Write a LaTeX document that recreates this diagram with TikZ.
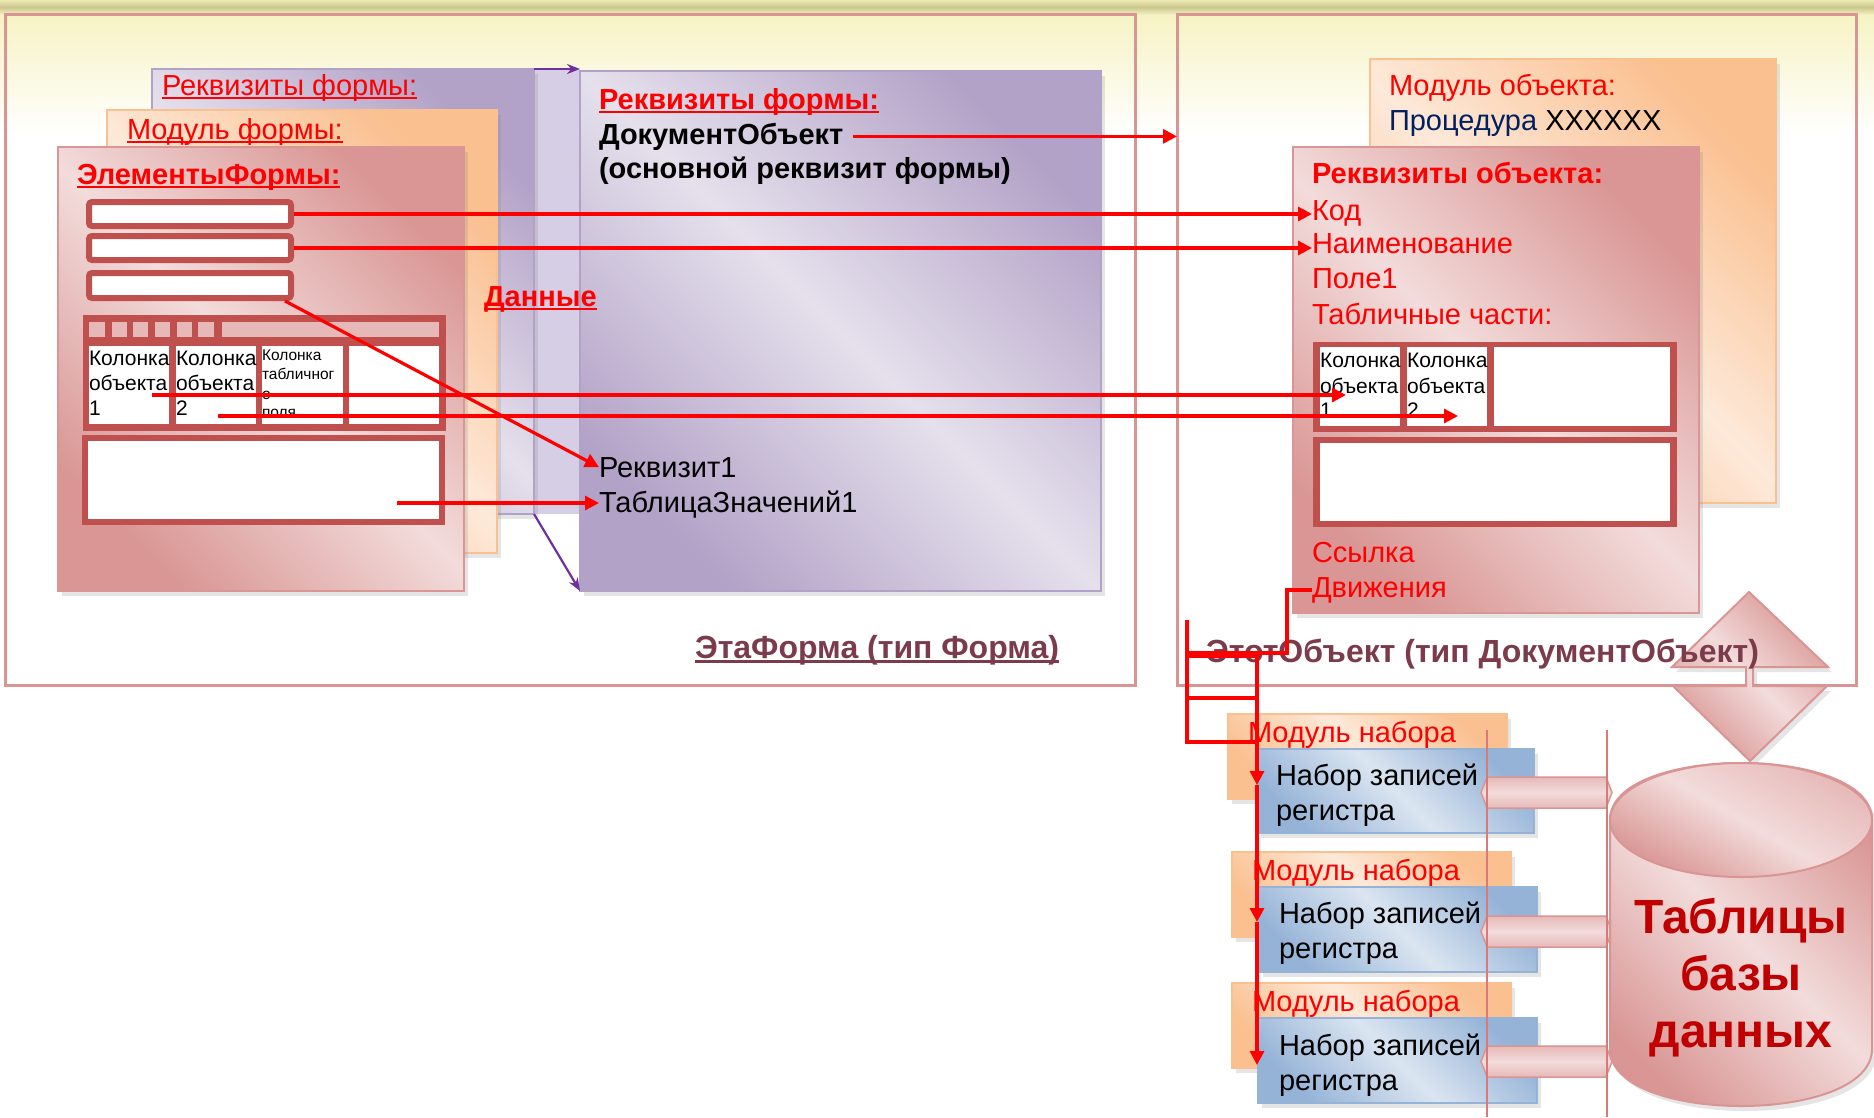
\documentclass[tikz,border=0pt]{standalone}
\usepackage{fontspec}
\setmainfont{Liberation Sans}
\usetikzlibrary{arrows.meta,shadows,fit}
\definecolor{frm}{HTML}{D99594}
\definecolor{dkred}{HTML}{C0504D}
\definecolor{pkL}{HTML}{F2DCDB}
\definecolor{pkM}{HTML}{E6B9B8}
\definecolor{pkD}{HTML}{D99694}
\definecolor{puL}{HTML}{E5E0EC}
\definecolor{puD}{HTML}{B3A2C7}
\definecolor{orL}{HTML}{FDE9D9}
\definecolor{orD}{HTML}{FAC090}
\definecolor{blL}{HTML}{DBE5F1}
\definecolor{blD}{HTML}{95B3D7}
\definecolor{mrn}{HTML}{7B3B4B}
\definecolor{nvy}{HTML}{002060}
\definecolor{dbred}{HTML}{C00000}
\definecolor{purp}{HTML}{7030A0}
\definecolor{stripc}{HTML}{D6CEE4}
\definecolor{yelT}{HTML}{EEEBB2}
\definecolor{khk}{HTML}{CBC78E}
\definecolor{yelB}{HTML}{F6F3C4}
\definecolor{thinl}{HTML}{D87A7A}
\newsavebox\ulbox
\newcommand\ulx[1]{\sbox\ulbox{#1}\rlap{\rule[-0.15em]{\wd\ulbox}{0.075em}}\usebox\ulbox}
\newcommand\fsMain{\fontsize{29}{35}\selectfont}
\newcommand\fsCell{\fontsize{21}{25}\selectfont}
\newcommand\fsSmall{\fontsize{15.5}{19}\selectfont}
\newcommand\fsTitle{\fontsize{32}{38}\selectfont}
\newcommand\fsBig{\fontsize{48}{57}\selectfont}
\tikzset{
 shd/.style={drop shadow={opacity=0.2,shadow xshift=4pt,shadow yshift=-5pt}},
 pinkbox/.style={draw=pkD,line width=1.5pt,left color=pkD,right color=pkD,middle color=pkL,shading angle=-45,shd},
 purbox/.style={draw=puD,line width=1.5pt,left color=puD,right color=puD,middle color=puL,shading angle=-45,shd},
 orbox/.style={draw=orD,line width=1.5pt,left color=orD,right color=orD,middle color=orL,shading angle=-45,shd},
 blbox/.style={draw=blD,line width=1.5pt,left color=blD,right color=blD,middle color=blL,shading angle=-45,shd},
 frame/.style={draw=frm,line width=3pt},
 fieldbox/.style={draw=dkred,line width=6pt,fill=white,rounded corners=3pt,outer sep=3pt},
 dk/.style={fill=dkred},
 wc/.style={fill=white},
 txt/.style={anchor=base west,font=\fsMain,text=red},
 blk/.style={txt,text=black},
 celltx/.style={anchor=base west,font=\fsCell,text=black},
 smalltx/.style={anchor=base west,font=\fsSmall,text=black},
 rarr/.style={draw=red,line width=3.2pt,-{Triangle[length=14pt,width=14pt]}},
 rline/.style={draw=red,line width=3.2pt},
 parr/.style={draw=purp,line width=2.2pt,-{Stealth[length=13pt,width=10pt]}},
 barsh/.style={draw=frm,line width=1.5pt,top color=pkM,bottom color=pkM,middle color=pkL},
}
\begin{document}
\begin{tikzpicture}[x=1pt,y=-1pt,every node/.style={inner sep=0pt,outer sep=0pt}]
\useasboundingbox (0,0) rectangle (1874,1117);
% background
\fill[white] (0,0) rectangle (1874,1117);
\shade[top color=yelT,bottom color=khk] (0,0) rectangle (1874,7);
\shade[top color=khk,bottom color=yelB] (0,7) rectangle (1874,15);
\shade[top color=yelB,bottom color=white] (0,15) rectangle (1874,135);
% frames
\node[frame,fit={(5,14) (1135,685)}] (lframe) {};
\node[frame,fit={(1177,14) (1856,685)}] (rframe) {};
% left stack
\node[fill=stripc,fit={(534,70) (580,514)}] (S) {};
\node[purbox,fit={(152,69) (534,514)}] (A) {};
\node[orbox,fit={(107,110) (497,553)}] (B) {};
\node[pinkbox,fit={(58,147) (464,591)}] (C) {};
\node[purbox,fit={(580,71) (1101,591)}] (D) {};
\node[txt] (tA) at (162,95) {\ulx{Реквизиты формы:}};
\node[txt] (tB) at (127,139) {\ulx{Модуль формы:}};
\node[txt,font=\fsMain\bfseries] (tC) at (77,184) {\ulx{ЭлементыФормы:}};
% fields
\node[fieldbox,fit={(89,202) (291,226)}] (f1) {};
\node[fieldbox,fit={(89,236) (291,260)}] (f2) {};
\node[fieldbox,fit={(89,273) (291,298)}] (f3) {};
% left table
\node[dk,fit={(83,315) (446,431)}] (tbl) {};
\foreach \a/\b in {89/105,112/127,133/148,155/170,177/192,198/214,222/439}
  \fill[pkM] (\a,322) rectangle (\b,337);
\node[wc,fit={(89,346) (169,424)}] (c1) {};
\node[wc,fit={(176,346) (256,424)}] (c2) {};
\node[wc,fit={(262,346) (343,424)}] (c3) {};
\node[wc,fit={(349,346) (439,424)}] (c4) {};
\node[celltx] (c1a) at (89,365) {Колонка};
\node[celltx] (c1b) at (89,390) {объекта};
\node[celltx] (c1c) at (89,415) {1};
\node[celltx] (c2a) at (176,365) {Колонка};
\node[celltx] (c2b) at (176,390) {объекта};
\node[celltx] (c2c) at (176,415) {2};
\node[smalltx] (c3a) at (262,360) {Колонка};
\node[smalltx] (c3b) at (262,379) {табличног};
\node[smalltx] (c3c) at (262,399) {о};
\node[smalltx] (c3d) at (262,417) {поля};
\node[dk,fit={(82,435) (445,525)}] (bb) {};
\node[wc,fit={(88,441) (439,519)}] (bbin) {};
% big form attributes box texts
\node[txt,font=\fsMain\bfseries] (dan) at (484,306) {\ulx{Данные}};
\node[txt,font=\fsMain\bfseries] (tD) at (599,109) {\ulx{Реквизиты формы:}};
\node[blk,font=\fsMain\bfseries] (docobj) at (599,144) {ДокументОбъект};
\node[blk,font=\fsMain\bfseries] (osn) at (599,178) {(основной реквизит формы)};
\node[blk] (rekv1) at (599,477) {Реквизит1};
\node[blk] (tz1) at (599,512) {ТаблицаЗначений1};
\node[txt,font=\fsTitle\bfseries,text=mrn] (etaf) at (695,658) {\ulx{ЭтаФорма (тип Форма)}};
% right side
\node[orbox,fit={(1370,59) (1776,503)}] (MO) {};
\node[txt] (tMO) at (1389,95) {Модуль объекта:};
\node[txt,text=nvy] (proc) at (1389,130) {Процедура \textcolor{black}{XXXXXX}};
\node[pinkbox,fit={(1293,147) (1699,613)}] (RO) {};
\node[txt,font=\fsMain\bfseries] (tRO) at (1312,183) {Реквизиты объекта:};
\node[txt] (kod) at (1312,220) {Код};
\node[txt] (naim) at (1312,253) {Наименование};
\node[txt] (pole) at (1312,288) {Поле1};
\node[txt] (tch) at (1312,324) {Табличные части:};
\node[dk,fit={(1313,342) (1677,432)}] (rtbl) {};
\node[wc,fit={(1320,347) (1400,426)}] (rc1) {};
\node[wc,fit={(1407,347) (1487,426)}] (rc2) {};
\node[wc,fit={(1494,347) (1670,426)}] (rc3) {};
\node[celltx] (rc1a) at (1320,367) {Колонка};
\node[celltx] (rc1b) at (1320,393) {объекта};
\node[celltx] (rc1c) at (1320,417) {1};
\node[celltx] (rc2a) at (1407,367) {Колонка};
\node[celltx] (rc2b) at (1407,393) {объекта};
\node[celltx] (rc2c) at (1407,417) {2};
\node[dk,fit={(1313,437) (1677,527)}] (rbb) {};
\node[wc,fit={(1320,443) (1670,521)}] (rbbin) {};
\node[txt] (ssyl) at (1312,562) {Ссылка};
\node[txt] (dvizh) at (1312,597) {Движения};
% double arrow
\path[draw=frm,line width=2pt,left color=pkD,right color=pkD,middle color=pkL,shading angle=-45,shd]
 (1749,592) -- (1828,667) -- (1753,667) -- (1753,686) -- (1827,686) -- (1750,761)
 -- (1673,686) -- (1746,686) -- (1746,667) -- (1672,667) -- cycle;
\node[txt,font=\fsTitle\bfseries,text=mrn] (etot) at (1206,662) {ЭтотОбъект (тип ДокументОбъект)};
% register record sets
\node[orbox,fit={(1228,714) (1507,799)}] (o1) {};
\node[blbox,fit={(1257,749) (1534,833)}] (b1) {};
\node[orbox,fit={(1232,852) (1511,937)}] (o2) {};
\node[blbox,fit={(1259,887) (1537,972)}] (b2) {};
\node[orbox,fit={(1232,983) (1511,1068)}] (o3) {};
\node[blbox,fit={(1258,1018) (1537,1103)}] (b3) {};
\node[txt] (mo1) at (1248,742) {Модуль набора};
\node[txt] (mo2) at (1252,880) {Модуль набора};
\node[txt] (mo3) at (1252,1011) {Модуль набора};
\node[blk] (n1a) at (1276,785) {Набор записей};
\node[blk] (n1b) at (1276,820) {регистра};
\node[blk] (n2a) at (1279,923) {Набор записей};
\node[blk] (n2b) at (1279,958) {регистра};
\node[blk] (n3a) at (1279,1055) {Набор записей};
\node[blk] (n3b) at (1279,1090) {регистра};
% bars to the database
\foreach \y in {777,916,1046}
  \path[barsh] (1481,\y+15.5) -- (1487,\y) -- (1606,\y) -- (1612,\y+15.5) -- (1606,\y+31) -- (1487,\y+31) -- cycle;
\draw[thinl,line width=1.5pt] (1487,730) -- (1487,1117);
\draw[thinl,line width=1.5pt] (1607,730) -- (1607,1117);
% cylinder
\path[draw=frm,line width=2pt,left color=pkD,right color=pkD,middle color=pkL,shading angle=-45,shd]
 (1610,820) -- (1610,1049) .. controls (1610,1125) and (1872,1125) .. (1872,1049)
 -- (1872,820) .. controls (1872,744) and (1610,744) .. (1610,820) -- cycle;
\path[draw=frm,line width=2pt,left color=pkM,right color=pkD,middle color=pkL,shading angle=-30]
 (1741,820) ellipse [x radius=131,y radius=57];
\node[anchor=base,font=\fsBig\bfseries,text=dbred] (db1) at (1741,933) {Таблицы};
\node[anchor=base,font=\fsBig\bfseries,text=dbred] (db2) at (1741,990) {базы};
\node[anchor=base,font=\fsBig\bfseries,text=dbred] (db3) at (1741,1047) {данных};
% purple zoom arrows
\draw[parr] (A.north east) -- (A.north east -| D.west);
\draw[parr] (A.south east) -- (D.south west);
% red connectors
\draw[rarr] ([xshift=10pt]docobj.east) -- (docobj.east -| rframe.west);
\draw[rarr] (f1.east) -- (f1.east -| kod.west);
\draw[rarr] (f2.east) -- (f2.east -| naim.west);
\draw[rarr] ([xshift=-9pt]f3.south east) -- (rekv1.west);
\coordinate (s5) at (152,395);
\coordinate (e5) at (1346,395);
\coordinate (s6) at (218,416);
\coordinate (e6) at (1458,416);
\draw[rarr] (s5) -- (e5);
\draw[rarr] (s6) -- (e6);
\coordinate (s7) at (397,503);
\draw[rarr] (s7) -- (s7 -| tz1.west);
% movements bracket
\coordinate (k1) at (1187,653);
\coordinate (k2) at (1187,620);
\coordinate (k3) at (1257,742);
\coordinate (k4) at (1187,698);
\coordinate (k5) at (1257,698);
\coordinate (k6) at (1187,656);
\coordinate (a1) at (1257,785);
\coordinate (a2) at (1257,922);
\coordinate (a3) at (1257,1065);
\draw[rline] (dvizh.west) -- ++(-25,0) |- (k1);
\draw[rline] (k2) |- (k3);
\draw[rline] (k4) -- (k5);
\draw[rarr] (k6) -| (a1);
\draw[rarr] (a1) -- (a2);
\draw[rarr] (a2) -- (a3);
\end{tikzpicture}
\end{document}
